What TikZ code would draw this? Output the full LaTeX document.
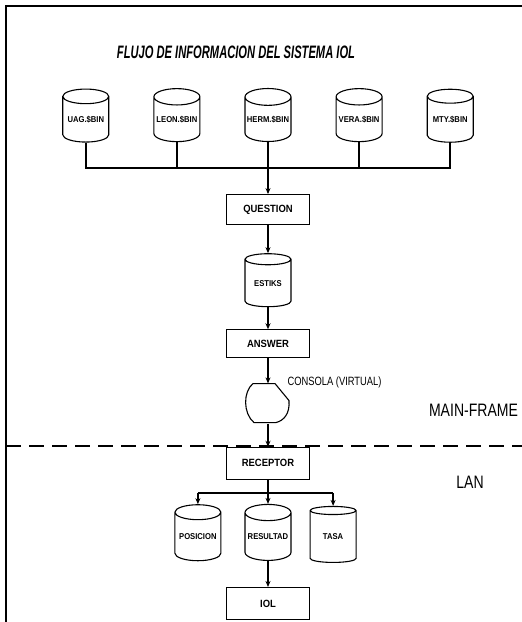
\documentclass[tikz,border=0pt]{standalone}
\usepackage{fontspec}
\newfontfamily\titulofont[FakeStretch=0.62]{Liberation Sans}
\newfontfamily\cajafont[FakeStretch=0.9]{Liberation Sans}
\newfontfamily\rotulofont[FakeStretch=0.78]{Liberation Sans}
\usetikzlibrary{positioning,arrows.meta,shapes.geometric}

\begin{document}
\begin{tikzpicture}[
  x=1pt, y=1pt,
  font=\cajafont\bfseries\fontsize{10.5}{12}\selectfont,
  node distance=24pt and 44pt,
  caja/.style={rectangle, draw, line width=1.1pt, minimum width=83pt, minimum height=30pt, inner sep=1pt},
  disco/.style={cylinder, shape border rotate=90, aspect=0.4, draw, line width=1.1pt, minimum width=46pt, minimum height=53pt, inner sep=0pt, font=\cajafont\bfseries\fontsize{8.5}{10}\selectfont},
  pantalla/.style={minimum width=42pt, minimum height=40pt, inner sep=0pt},
  rotulo/.style={font=\rotulofont\fontsize{18}{20}\selectfont},
  flecha/.style={-{Stealth[length=6pt, width=5pt]}, line width=1.5pt},
  linea/.style={line width=1.5pt}
]
\useasboundingbox (0,0) rectangle (522,622);
% marco
\draw[line width=1.3pt] (6,0) -- (6,616) -- (522,616);
\node[font=\titulofont\bfseries\itshape\fontsize{18}{20}\selectfont] (titulo) at (236,570) {FLUJO DE INFORMACION DEL SISTEMA IOL};
% archivos de origen
\node[disco] (herm) at (268,502.5) {HERM.\$BIN};
\node[disco, left=of herm] (leon) {LEON.\$BIN};
\node[disco, left=of leon] (uag) {UAG.\$BIN};
\node[disco, right=of herm] (vera) {VERA.\$BIN};
\node[disco, right=of vera] (mty) {MTY.\$BIN};
\node[caja, below=52pt of herm] (quest) {QUESTION};
\node[disco, below=28pt of quest] (estiks) {ESTIKS};
\node[caja, minimum height=28pt, below=22pt of estiks] (answer) {ANSWER};
\node[pantalla, below=25pt of answer] (consola) {};
\node[caja, minimum height=32pt, below=23pt of consola] (receptor) {RECEPTOR};
\node[disco, minimum height=56pt, below=24pt of receptor] (resultad) {RESULTAD};
\node[disco, minimum height=56pt, left=23pt of resultad] (posicion) {POSICION};
\node[disco, minimum height=56pt, right=18pt of resultad] (tasa) {TASA};
\node[caja, minimum height=32pt, below=26pt of resultad] (iol) {IOL};
% consola
\begin{scope}[shift={(consola.center)}]
\draw[line width=1.1pt, line join=round] (-15,20) -- (7,20) -- (21,3) .. controls (22,-10) and (16,-17) .. (8,-19) -- (-14,-19) .. controls (-25,-10) and (-25,12) .. cycle;
\end{scope}
\node[font=\rotulofont\fontsize{12}{14}\selectfont, anchor=west] (virtual) at ([xshift=16pt, yshift=1pt]consola.north) {CONSOLA (VIRTUAL)};
\node[rotulo] (mainframe) at (473.5,212) {MAIN-FRAME};
\node[rotulo] (lan) at (470,140) {LAN};
\draw[line width=1.2pt, dash pattern=on 15pt off 8pt] (6,176) -- (522,176);
% conexiones
\coordinate[below=26pt of herm] (bus);
\draw[linea] (uag.south) |- (bus) -| (mty.south);
\draw[linea] (leon.south) -- (leon.south |- bus);
\draw[linea] (vera.south) -- (vera.south |- bus);
\draw[flecha] (herm.south) -- (quest.north);
\draw[flecha] (quest) -- (estiks);
\draw[flecha] (estiks) -- (answer);
\draw[flecha] (answer) -- (consola);
\draw[flecha] (consola) -- (receptor);
\coordinate[below=13pt of receptor] (lbus);
\draw[linea] (posicion.north |- lbus) -- (tasa.north |- lbus);
\draw[flecha] (posicion.north |- lbus) -- (posicion.north);
\draw[flecha] (tasa.north |- lbus) -- (tasa.north);
\draw[flecha] (receptor) -- (resultad);
\draw[flecha] (resultad) -- (iol);
\end{tikzpicture}
\end{document}
